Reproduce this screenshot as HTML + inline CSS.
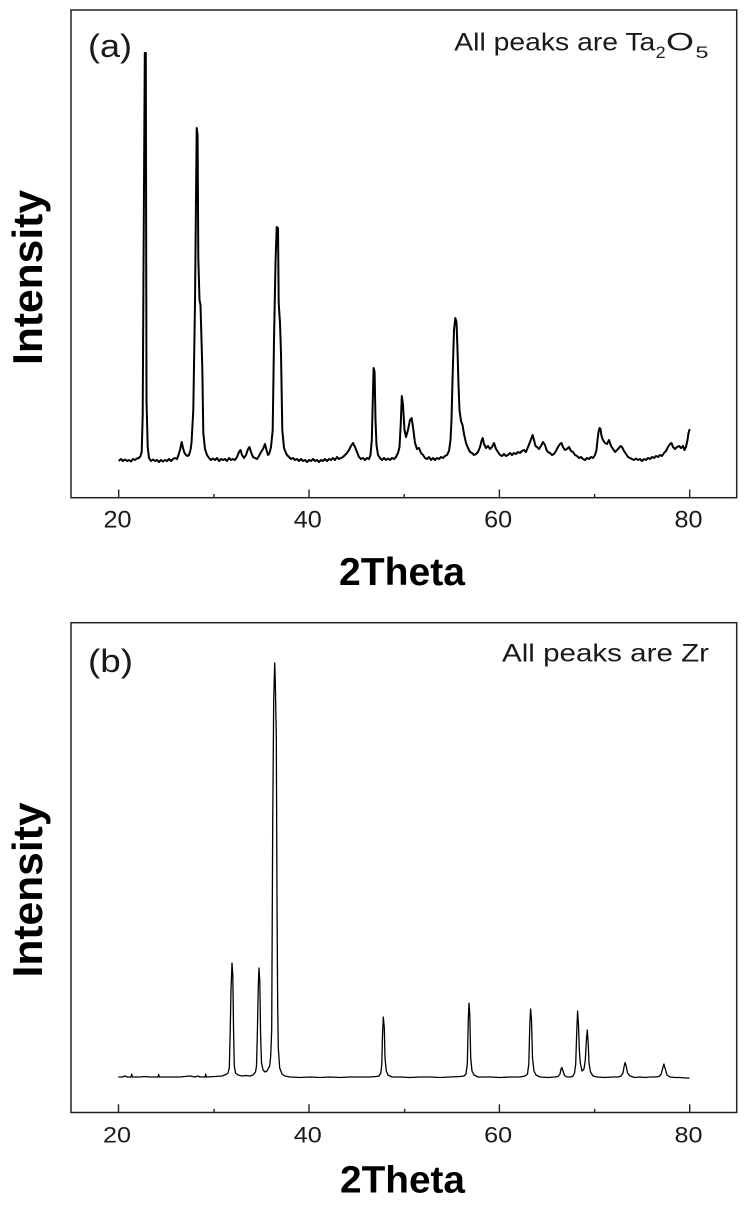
<!DOCTYPE html>
<html>
<head>
<meta charset="utf-8">
<style>
  html, body { margin: 0; padding: 0; background: #ffffff; }
  body { width: 752px; height: 1206px; overflow: hidden; }
  svg { display: block; }
  .lbl { font-family: "Liberation Sans", Arial, sans-serif; fill: #1a1a1a; }
  .bold { font-family: "Liberation Sans", Arial, sans-serif; font-weight: bold; fill: #000; }
</style>
</head>
<body>
<svg width="752" height="1206" viewBox="0 0 752 1206" xmlns="http://www.w3.org/2000/svg">
  <rect x="0" y="0" width="752" height="1206" fill="#fff"/>

  <!-- ================= Panel (a) ================= -->
  <rect x="71" y="10" width="665.7" height="487.7" fill="none" stroke="#222" stroke-width="1.5"/>
  <g stroke="#222" stroke-width="1.4">
    <line x1="118.7" y1="489.5" x2="118.7" y2="497.7"/>
    <line x1="309.0" y1="489.5" x2="309.0" y2="497.7"/>
    <line x1="499.4" y1="489.5" x2="499.4" y2="497.7"/>
    <line x1="689.7" y1="489.5" x2="689.7" y2="497.7"/>
    <line x1="213.9" y1="494" x2="213.9" y2="497.7"/>
    <line x1="404.2" y1="494" x2="404.2" y2="497.7"/>
    <line x1="594.6" y1="494" x2="594.6" y2="497.7"/>
  </g>
  <g class="lbl" font-size="24" text-anchor="middle">
    <text x="117.5" y="527.7" textLength="28" lengthAdjust="spacingAndGlyphs">20</text>
    <text x="307.8" y="527.7" textLength="28" lengthAdjust="spacingAndGlyphs">40</text>
    <text x="498.2" y="527.7" textLength="28" lengthAdjust="spacingAndGlyphs">60</text>
    <text x="688.5" y="527.7" textLength="28" lengthAdjust="spacingAndGlyphs">80</text>
  </g>
  <text class="bold" x="339" y="585" font-size="39" textLength="126" lengthAdjust="spacingAndGlyphs">2Theta</text>
  <text class="bold" font-size="42" text-anchor="middle" transform="translate(42,277.5) rotate(-90)" textLength="175" lengthAdjust="spacingAndGlyphs">Intensity</text>
  <text class="lbl" x="88" y="57" font-size="32" textLength="44" lengthAdjust="spacingAndGlyphs">(a)</text>
  <text class="lbl" x="454.3" y="50.3" font-size="25" textLength="201" lengthAdjust="spacingAndGlyphs">All peaks are Ta</text>
  <text class="lbl" x="655.7" y="58" font-size="17" textLength="10" lengthAdjust="spacingAndGlyphs">2</text>
  <text class="lbl" x="666" y="50.3" font-size="25" textLength="28" lengthAdjust="spacingAndGlyphs">O</text>
  <text class="lbl" x="695.5" y="58" font-size="17" textLength="13" lengthAdjust="spacingAndGlyphs">5</text>

  <polyline fill="none" stroke="#000" stroke-width="2" stroke-linejoin="round" points="
118.7,461 121,459 123,461 125,459.5 127,461 129,460 131,461.5 133,459 135,460 137,458.5 139,458 140.5,456 141.7,452 142.7,415 143.5,270 144.8,53 145.8,53 146.5,400 147.7,447 149,458 151,461 153,459.5 155,461 157,460 159,462 161,460 163,461.5 165,460 167,461 169,459 171,461 173,459 175,458 177,459 178.5,455 180,450 181.7,442 183,448 184.5,453 186,455 187.5,456 189,455 190.5,450 191.5,443 193.3,410 195,303 196,200 196.7,128 197.6,135 198.3,258 199.5,300 200.5,305 201.5,340 202.3,368 203.3,433 205,449 207,455 209,458 211,460 213,458.5 215,460 217,458 219,461 221,459 223,460 225,459 227,461 229,458 231,460 233,459 235,460 237,457 239,452 240.5,450 242,455 244,458 246,455 248,449 249.5,447 251,452 253,457 255,458 257,459 259,456 261,452 263,449 265,444 266.5,450 268,455 269.5,453 271,447 272.7,430 274,340 275.5,263 276.7,227 278,228 278.7,303 280,323 281,353 282.3,430 284,448 285.5,452 287,455 289,457 291,459 293,458 295,460 297,459 299,461 301,459 303,461 305,460 307,462 309,460 311,461 313,459 315,461 317,460 319,462 321,460 323,461 325,459 327,461 329,459 331,460 333,458 335,460 337,457 339,459 341,458 343,457 345,455 347,453 349,450 351,446 353,443 355,447 357,452 359,457 361,459 363,458 365,460 367,458 369,459 370.5,455 371.8,440 372.8,400 373.6,368 374.6,372 375.5,420 376.5,445 378,455 380,458 382,460 384,458 386,460 388,458.5 390,460 392,458 394,459 396,457 398,453 399.5,447 400.7,425 401.8,396 403,405 404.5,430 406,437 408,430 410,420 411.6,418 413,427 415,443 417,449 419,448 421,453 423,455 425,458 427,459 429,457 431,460 433,458 435,460 437,458 439,459 441,457 443,458 445,456 447,455 449,451 450.5,440 451.5,420 452.5,380 454,330 455.3,318 456.5,322 457.5,350 458.5,385 459.5,410 461,421 462.5,425 464,434 466,443 468,448 470,452 472,453 474,455 476,454 478,452 480,447 481.5,441 482.7,438 484,444 486,448 488,446 490,449 492,447 494,443 496,449 498,452 500,455 502,456 504,454 506,456 508,455 510,453 512,455 514,453 516,454 518,452 520,453 522,451 524,450 526,452 528,447 530,442 532.7,435 534,440 535.5,446 537,447 539,449 541,446 543,442 545,445 546.5,450 548,452 550,453 552,455 554,454 556,451 558,447 560,444 561.5,443 563,447 565,450 567,449 569,447 571,451 573,452 575,455 577,456 579,458 581,457 583,459 585,460 587,458 589,459 591,457 593,458 595,455 596.5,450 597.5,440 598.5,432 599.5,428 600.5,429 601.5,436 603,440 605,443 607,444 609,440 611,446 613,449 615,452 617,450 619,448 620.5,446 622,447 624,451 626,454 628,457 630,458 632,459 634,460 636,458.5 638,460 640,459 642,461 644,459 646,460 648,458 650,459 652,457 654,458 656,456 658,457 660,455 662,456 664,453 666,451 668,447 670,444 671.5,443 673,447 675,449 677,447 679,446 681,448 683,446 684.5,450 686,447 687.5,440 688.5,433 689.7,429"/>

  <!-- ================= Panel (b) ================= -->
  <rect x="71" y="622.7" width="665.7" height="489.8" fill="none" stroke="#222" stroke-width="1.5"/>
  <g stroke="#222" stroke-width="1.4">
    <line x1="118.5" y1="1104.3" x2="118.5" y2="1112.5"/>
    <line x1="309.0" y1="1104.3" x2="309.0" y2="1112.5"/>
    <line x1="499.4" y1="1104.3" x2="499.4" y2="1112.5"/>
    <line x1="689.7" y1="1104.3" x2="689.7" y2="1112.5"/>
    <line x1="214.1" y1="1108.8" x2="214.1" y2="1112.5"/>
    <line x1="404.6" y1="1108.8" x2="404.6" y2="1112.5"/>
    <line x1="594.6" y1="1108.8" x2="594.6" y2="1112.5"/>
  </g>
  <g class="lbl" font-size="22" text-anchor="middle">
    <text x="117" y="1142.3" textLength="28" lengthAdjust="spacingAndGlyphs">20</text>
    <text x="307.8" y="1142.3" textLength="28" lengthAdjust="spacingAndGlyphs">40</text>
    <text x="498.2" y="1142.3" textLength="28" lengthAdjust="spacingAndGlyphs">60</text>
    <text x="688.5" y="1142.3" textLength="28" lengthAdjust="spacingAndGlyphs">80</text>
  </g>
  <text class="bold" x="340" y="1192.3" font-size="38" textLength="125" lengthAdjust="spacingAndGlyphs">2Theta</text>
  <text class="bold" font-size="42" text-anchor="middle" transform="translate(42,890) rotate(-90)" textLength="175" lengthAdjust="spacingAndGlyphs">Intensity</text>
  <text class="lbl" x="88" y="672" font-size="32" textLength="45" lengthAdjust="spacingAndGlyphs">(b)</text>
  <text class="lbl" x="502" y="661.7" font-size="25" textLength="207" lengthAdjust="spacingAndGlyphs">All peaks are Zr</text>

  <polyline fill="none" stroke="#000" stroke-width="1.3" stroke-linejoin="round" points="
118.3,1077 122,1077 125,1076 127,1077 131,1077 131.7,1074 132.3,1077 140,1077 145,1076.5 150,1077 158,1077 158.7,1074.5 159.3,1077 170,1077 180,1077 190,1076 195,1077 198,1076 200,1077 205,1077 205.7,1074 206.3,1077 215,1076.5 222,1076 226,1074.5 228,1073 229.3,1068 230.3,1027 231,990 232,963 232.8,975 233.5,1027 234.3,1066 235.5,1073 238,1075 242,1076 246,1075.5 250,1076 253,1075 255.5,1072 256.5,1066 257.3,1036 258.3,985 259,968 259.8,982 260.6,1035 261.5,1063 263,1070 265,1072 267,1071 268.5,1068 269.7,1066 270.7,1056 271.7,1030 272.7,825 273.7,700 274.7,663 275.3,682 276.3,737 277,900 277.7,1008 278.3,1048 279.7,1068 282,1074 285,1076 290,1077 300,1077.5 310,1077 320,1077.5 330,1077 340,1077.5 350,1077 360,1077 370,1077 376,1076.5 379,1076 380.8,1073 381.8,1064 382.5,1035 383.3,1017 384.3,1028 385,1058 386.3,1071 388,1075 392,1077 400,1077 410,1077.5 420,1077 430,1077 440,1077.5 450,1077 460,1076.5 464,1076 466,1074 467.3,1064 468.3,1020 469,1003 469.8,1015 470.7,1058 472,1071 474,1075 478,1077 490,1077 500,1077.5 510,1077 520,1077 525,1076 527.5,1074 528.8,1064 529.8,1025 530.6,1009 531.5,1020 532.5,1058 534,1071 536,1075 540,1077 548,1077.5 555,1077 558,1076.5 560,1074 561,1069 561.9,1067.5 563,1071 564.5,1075.5 567,1077 571,1077 573,1076 574.5,1073 575.7,1064 576.8,1030 577.6,1011 578.5,1025 579.3,1050 580.3,1063 582,1071 584,1069 585.3,1060 586.4,1040 587.3,1030 588.2,1043 589,1063 590.5,1072 593,1076 597,1077 605,1077.5 612,1077 618,1077 621,1076 623,1073 624.2,1066 625.1,1062.5 626.2,1066 627.5,1073 630,1076 635,1077.5 640,1077 645,1077.5 650,1077 655,1077 659,1076.5 661,1074.5 662.5,1069 663.9,1064 665.3,1069 667,1075 670,1077 675,1077.5 680,1077.5 685,1078 689.5,1078"/>
</svg>
</body>
</html>
